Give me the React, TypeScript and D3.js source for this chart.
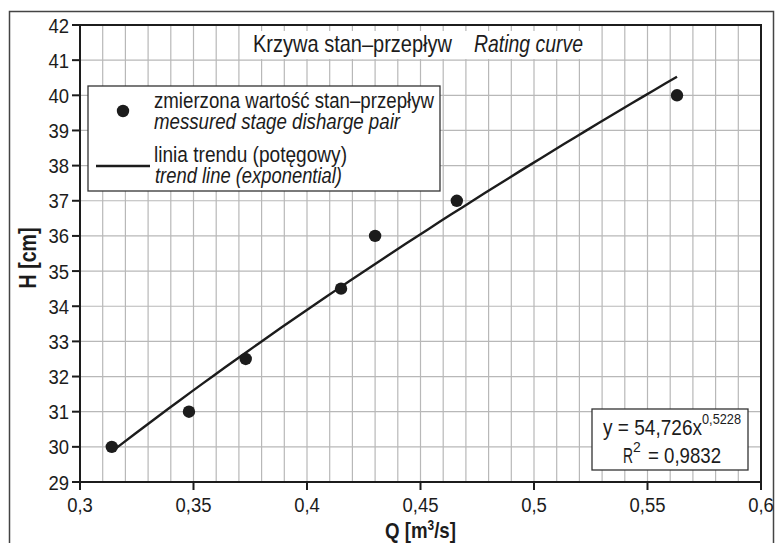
import React from "react";
import * as d3 from "d3";

const discharge = [0.314, 0.348, 0.373, 0.415, 0.43, 0.466, 0.563];
const stage = [30, 31, 32.5, 34.5, 36, 37, 40];
const xTicks = [0.3, 0.35, 0.4, 0.45, 0.5, 0.55, 0.6];
const yTicks = [29, 30, 31, 32, 33, 34, 35, 36, 37, 38, 39, 40, 41, 42];
const trendCoef = 54.726;
const trendExp = 0.5228;
const rSquared = 0.9832;
const trendRange = [0.314, 0.563];

const FONT = "'Liberation Sans', Arial, Helvetica, sans-serif";
const ink = "#1c1c1c";

type TP = {
  x: number;
  y: number;
  size: number;
  len?: number;
  italic?: boolean;
  bold?: boolean;
  anchor?: string;
  children: React.ReactNode;
};
function T({ x, y, size, len, italic, bold, anchor, children }: TP) {
  return (
    <text
      x={x}
      y={y}
      fontSize={size}
      fontStyle={italic ? "italic" : "normal"}
      fontWeight={bold ? "bold" : "normal"}
      textAnchor={anchor || "start"}
      textLength={len}
      lengthAdjust={len ? "spacingAndGlyphs" : undefined}
      fill={ink}
    >
      {children}
    </text>
  );
}

function Narrow({ x, y, size, sx, anchor, children }: { x: number; y: number; size: number; sx: number; anchor: string; children: React.ReactNode }) {
  return (
    <text transform={`translate(${x},${y}) scale(${sx},1)`} fontSize={size} textAnchor={anchor} fill={ink}>
      {children}
    </text>
  );
}

export default function App() {
  const W = 780, H = 543;
  const left = 80, right = 761, top = 25, bottom = 482;
  const x = d3.scaleLinear().domain([0.3, 0.6]).range([left, right]);
  const y = d3.scaleLinear().domain([29, 42]).range([bottom, top]);
  const minorX = d3.range(0, 31).map((i) => 0.3 + i * 0.01);
  const fmt = (v: number) => String(+v.toFixed(2)).replace(".", ",");
  const comma = (v: number) => String(v).replace(".", ",");

  const trendX = d3.range(0, 51).map((i) => trendRange[0] + (i / 50) * (trendRange[1] - trendRange[0]));
  const line = d3
    .line<number>()
    .x((d) => x(d))
    .y((d) => y(trendCoef * Math.pow(d, trendExp)));

  return (
    <svg width={W} height={H} style={{ position: "absolute", left: 0, top: 0, background: "#fff" }} fontFamily={FONT}>
      <rect x={0} y={0} width={W} height={H} fill="#fff" />
      {/* outer frame */}
      <path d={`M9.5,${H + 2} V11.5 H773.5 V${H + 2}`} fill="none" stroke="#444" strokeWidth={1.5} />
      {/* grid */}
      {minorX.map((v, i) => (
        <line key={"gx" + i} x1={x(v)} x2={x(v)} y1={top} y2={bottom} stroke="#b8b8b8" strokeWidth={1.2} />
      ))}
      {yTicks.map((v) => (
        <line key={"gy" + v} x1={left} x2={right} y1={y(v)} y2={y(v)} stroke="#b8b8b8" strokeWidth={1.2} />
      ))}
      {/* title background */}
      <rect x={240} y={31} width={358} height={28} fill="#fff" />
      {/* plot frame */}
      <rect x={left} y={top} width={right - left} height={bottom - top} fill="none" stroke={ink} strokeWidth={2} />
      {/* y ticks */}
      {yTicks.map((v) => (
        <g key={"yt" + v}>
          <line x1={left - 8} x2={left} y1={y(v)} y2={y(v)} stroke={ink} strokeWidth={2} />
          <Narrow x={69} y={y(v) + 7.5} size={21} sx={0.88} anchor="end">
            {v}
          </Narrow>
        </g>
      ))}
      {/* x ticks */}
      {xTicks.map((v) => (
        <g key={"xt" + v}>
          <line x1={x(v)} x2={x(v)} y1={bottom} y2={bottom + 8} stroke={ink} strokeWidth={2} />
          <Narrow x={x(v)} y={512} size={21} sx={0.88} anchor="middle">
            {fmt(v)}
          </Narrow>
        </g>
      ))}
      {/* axis titles */}
      <text
        transform={`translate(${(left + right) / 2},538) scale(0.85,1)`}
        textAnchor="middle"
        fontSize={22}
        fontWeight="bold"
        fill={ink}
      >
        Q [m<tspan dy={-8} fontSize={14}>3</tspan>
        <tspan dy={8}>/s]</tspan>
      </text>
      <text
        transform={`translate(36,258) rotate(-90) scale(0.85,1)`}
        textAnchor="middle"
        fontSize={23}
        fontWeight="bold"
        fill={ink}
      >
        H [cm]
      </text>
      {/* title */}
      <T x={253} y={52} size={24} len={199}>Krzywa stan–przepływ</T>
      <T x={474} y={52} size={24} len={109} italic>Rating curve</T>
      {/* trend line */}
      <path d={line(trendX) || ""} fill="none" stroke={ink} strokeWidth={2.4} />
      {/* points */}
      {discharge.map((q, i) => (
        <circle key={"p" + i} cx={x(q)} cy={y(stage[i])} r={6.2} fill={ink} />
      ))}
      {/* legend */}
      <rect x={88} y={86} width={352} height={105} fill="#fff" stroke="#333" strokeWidth={1.3} />
      <circle cx={123} cy={111} r={6.2} fill={ink} />
      <T x={154} y={108} size={22} len={280}>zmierzona wartość stan–przepływ</T>
      <T x={154} y={129} size={22} len={246} italic>messured stage disharge pair</T>
      <line x1={96} x2={150} y1={166} y2={166} stroke={ink} strokeWidth={2.4} />
      <T x={154} y={162} size={22} len={193}>linia trendu (potęgowy)</T>
      <T x={155} y={183} size={22} len={187} italic>trend line (exponential)</T>
      {/* equation */}
      <rect x={592} y={409} width={156} height={61} fill="#fff" stroke="#333" strokeWidth={1.3} />
      <text x={603} y={435} fontSize={22} fill={ink}>
        <tspan textLength={99} lengthAdjust="spacingAndGlyphs">{`y = ${comma(trendCoef)}x`}</tspan>
        <tspan dy={-11} fontSize={14} textLength={39} lengthAdjust="spacingAndGlyphs">{comma(trendExp)}</tspan>
      </text>
      <text x={623} y={463} fontSize={22} fill={ink}>
        <tspan textLength={10} lengthAdjust="spacingAndGlyphs">R</tspan>
        <tspan dy={-11} fontSize={14}>2</tspan>
        <tspan dy={11} x={648} textLength={73} lengthAdjust="spacingAndGlyphs">{`= ${comma(rSquared)}`}</tspan>
      </text>
    </svg>
  );
}
